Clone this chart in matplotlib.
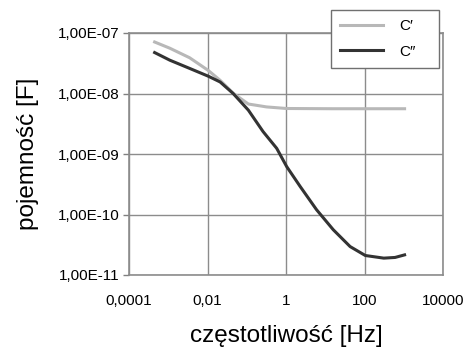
import numpy as np
import matplotlib
matplotlib.use('Agg')
import matplotlib.pyplot as plt
from matplotlib.ticker import FixedLocator, NullLocator

plt.rcParams['font.family'] = ['Liberation Sans', 'DejaVu Sans']

# frequency [Hz] and capacitance [F]
freq_c1 = [4.5e-4, 1.1e-3, 3.5e-3, 1.05e-2, 2.1e-2, 4.6e-2, 0.11, 0.32, 1.04, 16.0, 1050.0]
cap_c1 = [7.1e-8, 5.6e-8, 3.9e-8, 2.4e-8, 1.65e-8, 1.0e-8, 6.7e-9, 6.0e-9, 5.65e-9, 5.6e-9, 5.6e-9]

freq_c2 = [4.5e-4, 1.1e-3, 3.5e-3, 1.05e-2, 2.1e-2, 4.5e-2, 0.11, 0.26, 0.58,
           1.04, 2.3, 6.0, 16.0, 43.0, 105.0, 310.0, 600.0, 1050.0]
cap_c2 = [4.75e-8, 3.55e-8, 2.6e-8, 1.93e-8, 1.55e-8, 1.0e-8, 5.3e-9, 2.35e-9, 1.24e-9,
          6.2e-10, 2.9e-10, 1.2e-10, 5.6e-11, 2.95e-11, 2.1e-11, 1.9e-11, 1.95e-11, 2.15e-11]

labels = ['C\u2032', 'C\u2033']

x_ticks = [1e-4, 1e-2, 1, 1e2, 1e4]
x_ticklabels = ['0,0001', '0,01', '1', '100', '10000']
y_ticks = [1e-11, 1e-10, 1e-9, 1e-8, 1e-7]
y_ticklabels = ['1,00E-11', '1,00E-10', '1,00E-09', '1,00E-08', '1,00E-07']

fig = plt.figure(figsize=(4.7, 3.47), dpi=100)
ax = fig.add_axes([129 / 470, 1 - 275 / 347, 314 / 470, 242 / 347])

ax.plot(freq_c1, cap_c1, color='#b8b8b8', lw=2.2, label=labels[0], zorder=3)
ax.plot(freq_c2, cap_c2, color='#333333', lw=2.2, label=labels[1], zorder=4)

ax.set_xscale('log')
ax.set_yscale('log')
ax.set_xlim(1e-4, 1e4)
ax.set_ylim(1e-11, 1e-7)

ax.xaxis.set_major_locator(FixedLocator(x_ticks))
ax.xaxis.set_minor_locator(NullLocator())
ax.set_xticklabels(x_ticklabels)
ax.yaxis.set_major_locator(FixedLocator(y_ticks))
ax.yaxis.set_minor_locator(NullLocator())
ax.set_yticklabels(y_ticklabels)

ax.tick_params(axis='x', length=0, pad=14, labelsize=11)
ax.tick_params(axis='y', length=4, width=1, color='#808080', pad=3, labelsize=11)

ax.grid(True, color='#8c8c8c', lw=1)
for s in ax.spines.values():
    s.set_color('#8c8c8c')
    s.set_linewidth(1.2)

ax.set_xlabel('częstotliwość [Hz]', fontsize=17.5, labelpad=12)
ax.set_ylabel('pojemność [F]', fontsize=17.5, labelpad=13)

leg = ax.legend(loc='upper left',
                bbox_to_anchor=(331 / 470, 1 - 65 / 347, 108 / 470, 55 / 347),
                bbox_transform=fig.transFigure, borderaxespad=0, mode='expand',
                fancybox=False, framealpha=1, edgecolor='#707070',
                fontsize=11, handlelength=2.8, handletextpad=1.1,
                borderpad=0.6, labelspacing=0.75)
leg.get_frame().set_linewidth(1.0)
leg.set_zorder(10)

fig.savefig('out.png', dpi=100)
